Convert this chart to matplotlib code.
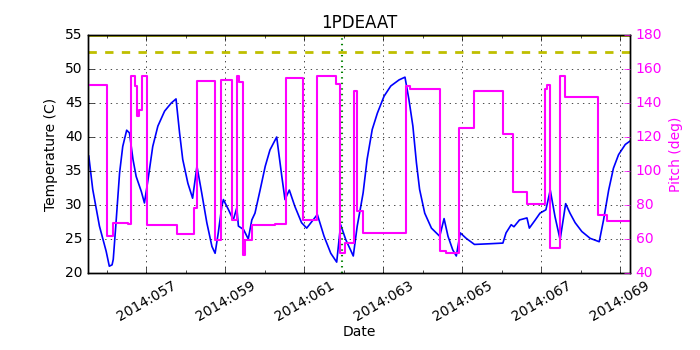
import matplotlib
matplotlib.use("Agg")
import matplotlib.pyplot as plt
from matplotlib.ticker import FixedLocator, MultipleLocator, FuncFormatter

# temperature trace (day of year 2014, deg C)
temp_days = [55.54, 55.64, 55.81, 55.98, 56.06, 56.13, 56.16, 56.23, 56.32, 56.40,
             56.50, 56.57, 56.66, 56.74, 56.87, 56.95, 57.04, 57.16, 57.29, 57.46,
             57.63, 57.75, 57.84, 57.92, 58.05, 58.17, 58.28, 58.40, 58.53, 58.66,
             58.74, 58.82, 58.91, 58.95, 59.08, 59.20, 59.29, 59.33, 59.46, 59.58,
             59.67, 59.75, 59.88, 60.01, 60.13, 60.30, 60.43, 60.51, 60.62, 60.76,
             60.93, 61.06, 61.33, 61.50, 61.67, 61.82, 61.92, 62.05, 62.17, 62.24,
             62.34, 62.43, 62.49, 62.59, 62.72, 62.85, 63.02, 63.19, 63.40, 63.55,
             63.65, 63.75, 63.84, 63.92, 64.05, 64.22, 64.43, 64.54, 64.64, 64.76,
             64.85, 64.95, 65.10, 65.31, 65.69, 66.03, 66.11, 66.24, 66.31, 66.45,
             66.64, 66.70, 66.85, 66.97, 67.12, 67.23, 67.35, 67.48, 67.62, 67.73,
             67.86, 68.03, 68.24, 68.47, 68.58, 68.71, 68.83, 68.96, 69.13, 69.25]
temp_vals = [37.2, 32.3, 26.9, 23.2, 21.0, 21.2, 22.0, 27.4, 34.7, 38.6,
             41.0, 40.6, 36.7, 34.2, 32.0, 30.3, 33.7, 38.6, 41.6, 43.8,
             45.0, 45.6, 40.6, 36.7, 33.2, 31.0, 35.7, 31.8, 27.4, 23.9,
             22.9, 25.9, 29.8, 30.8, 29.3, 27.8, 29.6, 26.9, 26.4, 25.0,
             27.8, 28.8, 32.2, 35.7, 38.1, 40.0, 34.2, 30.8, 32.2, 29.8,
             27.4, 26.6, 28.6, 25.4, 22.9, 21.6, 27.1, 24.9, 23.4, 22.5,
             26.9, 29.8, 31.8, 36.7, 41.1, 43.5, 46.0, 47.5, 48.4, 48.8,
             45.5, 41.6, 36.2, 32.3, 28.8, 26.6, 25.4, 28.0, 25.4, 23.4,
             22.5, 25.9, 25.1, 24.2, 24.3, 24.4, 25.9, 27.1, 26.8, 27.8,
             28.1, 26.6, 27.8, 28.8, 29.3, 32.2, 28.3, 24.9, 30.2, 28.8,
             27.4, 26.1, 25.1, 24.6, 27.8, 32.2, 35.4, 37.4, 38.9, 39.4]

# pitch (step changes: start day, deg)
pitch_days = [55.52, 56.01, 56.15, 56.53, 56.61, 56.72, 56.77, 56.82, 56.88, 57.02,
              57.77, 58.20, 58.29, 58.74, 58.88, 59.18, 59.30, 59.34, 59.44, 59.50,
              59.68, 60.26, 60.53, 60.97, 61.33, 61.81, 61.90, 62.02, 62.26, 62.33,
              62.49, 63.57, 63.68, 64.44, 64.59, 64.92, 65.31, 66.03, 66.28, 66.64,
              67.10, 67.16, 67.23, 67.48, 67.61, 68.45, 68.66, 69.25]
pitch_vals = [150.7, 61.6, 69.4, 68.8, 155.7, 149.8, 132.2, 136.0, 155.7, 68.4,
              62.9, 78.2, 152.8, 59.2, 153.4, 71.0, 155.7, 152.2, 50.8, 59.5,
              68.0, 68.6, 154.7, 71.4, 155.7, 151.2, 51.8, 57.6, 146.9, 76.3,
              63.5, 149.8, 148.2, 52.7, 51.9, 125.3, 147.3, 121.9, 87.8, 80.6,
              148.5, 150.8, 54.7, 155.7, 143.5, 74.3, 70.4, 70.4]

limit_temp = 52.5
top_temp = 55.0
event_day = 61.95
year = 2014

plt.style.use('classic')
plt.rcParams['font.size'] = 10
plt.rcParams['font.family'] = 'DejaVu Sans'

fig = plt.figure(figsize=(7, 3.5), dpi=100, facecolor='white')
ax1 = fig.add_axes([0.1257, 0.22, 0.7743, 0.68])

ax1.plot(temp_days, temp_vals, color='b', lw=1.2)
ax1.axhline(limit_temp, color='y', ls='--', lw=2)
ax1.axhline(top_temp, color='y', lw=2)
ax1.axvline(event_day, color='g', ls=':', lw=1.5)

ax1.set_xlim(55.52, 69.25)
ax1.set_ylim(20, 55)
ax1.set_yticks(range(20, 56, 5))
ax1.xaxis.set_major_locator(FixedLocator(range(57, 70, 2)))
ax1.xaxis.set_minor_locator(MultipleLocator(1))
ax1.xaxis.set_major_formatter(FuncFormatter(lambda v, p: f"{year}:{int(round(v)):03d}"))
for lab in ax1.get_xticklabels():
    lab.set_rotation(30)
    lab.set_ha('center')
ax1.grid(True, color='k', ls=':')
ax1.set_xlabel('Date', labelpad=1)
ax1.set_ylabel('Temperature (C)')
ax1.set_title('1PDEAAT', fontsize=12)

ax2 = ax1.twinx()
ax2.plot(pitch_days, pitch_vals, color='magenta', lw=1.5, drawstyle='steps-post')
ax2.set_xlim(55.52, 69.25)
ax2.set_ylim(40, 180)
ax2.set_yticks(range(40, 181, 20))
ax2.tick_params(axis='y', colors='magenta')
ax2.set_ylabel('Pitch (deg)', color='magenta')

fig.savefig('out.png', dpi=100, facecolor='white')
